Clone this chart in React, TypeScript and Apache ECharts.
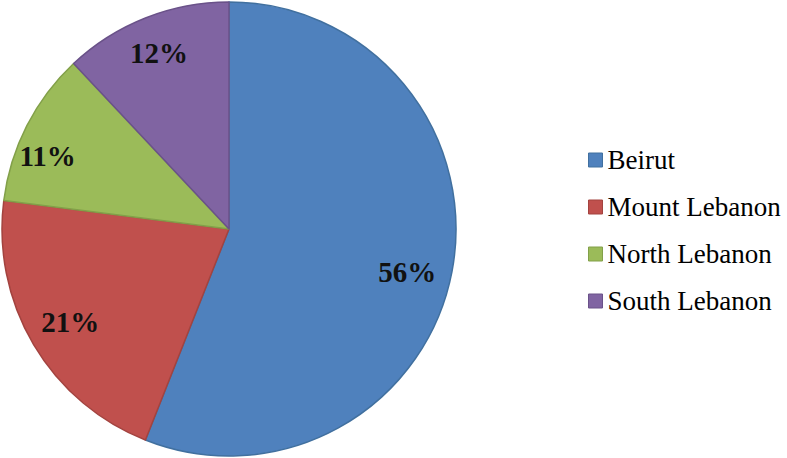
import React, { useEffect, useRef } from "react";
import * as echarts from "echarts";

const categories = ["Beirut", "Mount Lebanon", "North Lebanon", "South Lebanon"];
const values = [56, 21, 11, 12];
const colors = ["#4F81BD", "#C0504D", "#9BBB59", "#8064A2"];
const borders = ["#41709F", "#A3433F", "#82A049", "#6A5289"];

export default function App() {
  const ref = useRef<HTMLDivElement>(null);
  useEffect(() => {
    const chart = echarts.init(ref.current!, null, { renderer: "svg" });
    const data = categories.map((name, i) => ({
      name,
      value: values[i],
      itemStyle: { color: colors[i], borderColor: borders[i], borderWidth: 1.5 },
    }));
    const labelData = categories.map((name, i) => ({ name, value: values[i] }));
    // small nudges mimicking the original's label placement
    const nudge = [
      [-3, 8],
      [0, -1],
      [-17, 11],
      [-2, -4],
    ];
    chart.setOption({
      animation: false,
      backgroundColor: "#ffffff",
      legend: {
        orient: "vertical",
        left: 583,
        top: 140,
        itemWidth: 14,
        itemHeight: 14,
        itemGap: 17,
        icon: "rect",
        data: categories,
        itemStyle: { borderWidth: 1 },
        textStyle: {
          fontFamily: "Liberation Serif",
          fontSize: 27,
          color: "#000",
          lineHeight: 30,
          padding: [0, 0, 0, 0],
        },
        selectedMode: false,
      },
      series: [
        {
          type: "pie",
          center: [229, 229],
          radius: [0, 227],
          startAngle: 90,
          clockwise: true,
          label: { show: false },
          labelLine: { show: false },
          emphasis: { disabled: true },
          data,
        },
        {
          type: "pie",
          center: [229, 229],
          radius: [0, 363],
          startAngle: 90,
          clockwise: true,
          silent: true,
          z: 5,
          legendHoverLink: false,
          itemStyle: { color: "rgba(0,0,0,0)", borderWidth: 0 },
          label: {
            show: true,
            position: "inside",
            formatter: "{c}%",
            fontFamily: "Liberation Serif",
            fontWeight: "bold",
            fontSize: 29,
            color: "#111",
          },
          labelLayout: (p: any) => ({ dx: nudge[p.dataIndex][0], dy: nudge[p.dataIndex][1] }),
          labelLine: { show: false },
          emphasis: { disabled: true },
          data: labelData,
        },
      ],
    });
    return () => chart.dispose();
  }, []);
  return (
    <div
      ref={ref}
      style={{ position: "absolute", left: 0, top: 0, width: 787, height: 458 }}
    />
  );
}
